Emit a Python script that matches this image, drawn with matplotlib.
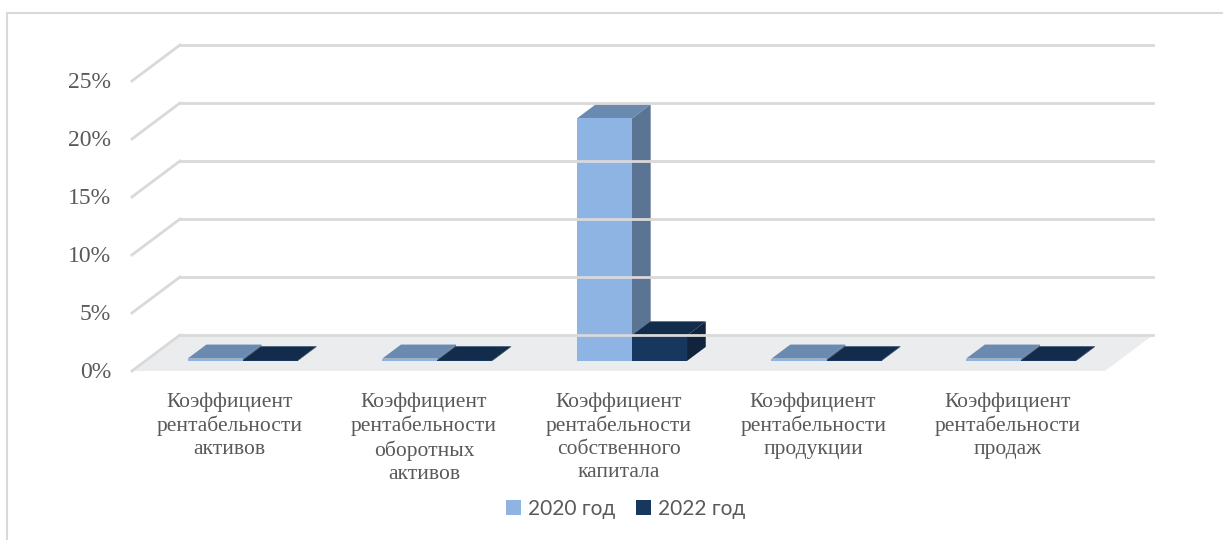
import matplotlib
matplotlib.use("Agg")
import matplotlib.pyplot as plt
from matplotlib.patches import Polygon, Patch

# ---------------------------------------------------------------
categories = ["Коэффициент\nрентабельности\nактивов",
              "Коэффициент\nрентабельности\nоборотных\nактивов",
              "Коэффициент\nрентабельности\nсобственного\nкапитала",
              "Коэффициент\nрентабельности\nпродукции",
              "Коэффициент\nрентабельности\nпродаж"]
series_names = ["2020 год", "2022 год"]
values_2020 = [0.2, 0.2, 20.9, 0.2, 0.2]   # %
values_2022 = [0.05, 0.05, 2.2, 0.05, 0.05]
yticks = [0, 5, 10, 15, 20, 25]

# face colours: front, side, top
colors = [("#8eb4e3", "#5b7493", "#6a8ab0"),
          ("#17375e", "#10243d", "#132c4b")]

# oblique projection of the depth axis (in data units)
DX, DY = 0.2467, 3.10
d0, d1 = 0.28, 0.67          # bars sit between these depth fractions
bw = 0.283                   # width of one bar
grid_c = "#d9d9d9"
txt_c = "#595959"

fig = plt.figure(figsize=(12.23, 5.40), dpi=100)
ax = fig.add_axes([0, 0, 1, 1])
ax.set_xlim(-1.178, 5.106)
ax.set_ylim(-14.57, 31.98)
ax.axis("off")

# outer frame
ax.plot([-1.142, -1.142, 5.2], [-15, 30.86, 30.86], color=grid_c, lw=1.5,
        clip_on=False)

# floor
n = len(categories)
floor = Polygon([(-0.5, 0), (n - 0.5, 0), (n - 0.5 + DX, DY), (-0.5 + DX, DY)],
                closed=True, fc="#ebecee", ec="none")
ax.add_patch(floor)

# back wall gridlines and left side lines
for v in yticks:
    ax.plot([-0.5 + DX, n - 0.5 + DX], [v + DY, v + DY], color=grid_c, lw=2)
    ax.plot([-0.5, -0.5 + DX], [v, v + DY], color=grid_c, lw=2)
    ax.text(-0.608, v - 0.15, f"{v}%", ha="right", va="center", fontsize=17,
            family="Liberation Serif", color=txt_c)


def bar3d(x0, val, col):
    fx0 = x0 + d0 * DX
    fx1 = fx0 + bw
    y0 = d0 * DY
    y1 = y0 + val
    ox, oy = (d1 - d0) * DX, (d1 - d0) * DY
    front, side, top = col
    ax.add_patch(Polygon([(fx0, y1), (fx1, y1), (fx1 + ox, y1 + oy), (fx0 + ox, y1 + oy)],
                         closed=True, fc=top, ec="none"))
    ax.add_patch(Polygon([(fx1, y0), (fx1 + ox, y0 + oy), (fx1 + ox, y1 + oy), (fx1, y1)],
                         closed=True, fc=side, ec="none"))
    ax.add_patch(Polygon([(fx0, y0), (fx1, y0), (fx1, y1), (fx0, y1)],
                         closed=True, fc=front, ec="none"))


for i in range(n):
    bar3d(i - bw, values_2020[i], colors[0])
    bar3d(i, values_2022[i], colors[1])
    ax.text(i, -1.85, categories[i], ha="center", va="top", fontsize=15.5,
            family="Liberation Serif", color=txt_c, linespacing=1.26)

handles = [Patch(fc=colors[0][0], ec="none"), Patch(fc=colors[1][0], ec="none")]
fig.legend(handles, series_names, loc="center", ncol=2,
           bbox_to_anchor=(626 / 1223, 1 - 509 / 540), frameon=False,
           prop={"family": "Lato", "size": 15}, labelcolor=txt_c,
           handlelength=0.7, handleheight=0.7, handletextpad=0.35, columnspacing=1.0)

fig.savefig("out.png", dpi=100)
